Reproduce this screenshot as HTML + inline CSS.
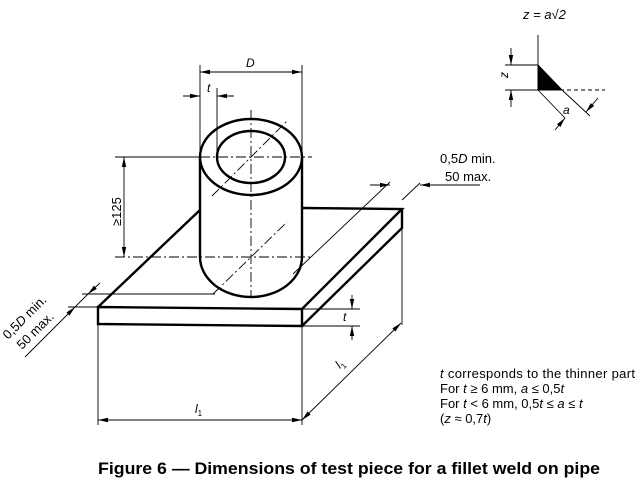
<!DOCTYPE html>
<html><head><style>
body{margin:0;background:#fff;width:640px;height:494px;overflow:hidden;font-family:"Liberation Sans",sans-serif}
svg{position:absolute;left:0;top:0}
text{font-family:"Liberation Sans",sans-serif;fill:#000}
</style></head><body>
<svg width="640" height="494" viewBox="0 0 640 494">
<defs><marker id="a" markerWidth="10" markerHeight="6" refX="10" refY="3" orient="auto-start-reverse" markerUnits="userSpaceOnUse"><path d="M0,0.8 L10,3 L0,5.2z" fill="#000"/></marker></defs>
<g stroke="#000" fill="none">
<g stroke-width="2.4">
<path d="M98,307 L302,309 L302,326 L98,324 Z"/>
<path d="M98,307 L200,210"/>
<path d="M302,208 L402,209 L302,309"/>
<path d="M402,209 L402,228 L302,326"/>
</g>
<g stroke-width="2.4">
<path d="M200,157 L200,257 A51,40 0 0 0 302,257 L302,157" fill="#fff"/>
<ellipse cx="251" cy="157" rx="51" ry="38" fill="#fff"/>
<ellipse cx="251" cy="157" rx="34" ry="26"/>
</g>
<g stroke-width="0.9" stroke-dasharray="10,3,2,3">
<path d="M251,110 V298"/>
<path d="M212,196 L288,120"/>
<path d="M213,294 L287,222"/>
<path d="M200,157 H312"/>
<path d="M115,257 H312"/>
</g>
<g stroke-width="0.9">
<path d="M115,157 H200"/>
<path d="M200,65 V157 M302,65 V157"/>
<path d="M200,72 H302" marker-start="url(#a)" marker-end="url(#a)"/>
<path d="M217,88 V157"/>
<path d="M183,96 H200" marker-end="url(#a)"/><path d="M234,96 H217" marker-end="url(#a)"/>
<path d="M124,157 V257" marker-start="url(#a)" marker-end="url(#a)"/>
<path d="M390,182 L293,274"/>
<path d="M420,183 L402,200"/>
<path d="M370,185 H390" marker-end="url(#a)"/>
<path d="M480,185 H420" marker-end="url(#a)"/>
<path d="M82,294 H215 M68,307 H98"/>
<path d="M100,283 L88,294" marker-end="url(#a)"/>
<path d="M25,357 L75,307" marker-end="url(#a)"/>
<path d="M88,294 L75,307"/>
<path d="M302,309 H360 M302,326 H360"/>
<path d="M352,295 V309" marker-end="url(#a)"/>
<path d="M352,340 V326" marker-end="url(#a)"/>
<path d="M98,325 V425 M302,326 V425 M402,228 V325"/>
<path d="M98,420 H302" marker-start="url(#a)" marker-end="url(#a)"/>
<path d="M302,420 L401,323" marker-start="url(#a)" marker-end="url(#a)"/>
<path d="M538,35 V90 M505,90 H560 M505,65 H538"/>
<path d="M560,90 H605" stroke-dasharray="4,3"/>
<path d="M511,48 V65" marker-end="url(#a)"/><path d="M511,107 V90" marker-end="url(#a)"/>
<path d="M538,90 L565,118 M562,90 L590,116"/>
<path d="M555,130 L565,118" marker-end="url(#a)"/>
<path d="M598,98 L586,112" marker-end="url(#a)"/>
</g>
<path d="M538,65 L538,90 L562,90 Z" fill="#000" stroke="#000"/>
</g>
<g font-size="12" font-style="italic">
<text x="246" y="67">D</text>
<text x="207" y="92">t</text>
<text transform="translate(121,226) rotate(-90)" font-style="normal" font-size="13">≥125</text>
<text x="440" y="163" font-style="normal" font-size="13">0,5<tspan font-style="italic">D</tspan> min.</text>
<text x="445" y="181" font-style="normal" font-size="13">50 max.</text>
<text transform="translate(8,340) rotate(-45)" font-style="normal" font-size="13">0,5<tspan font-style="italic">D</tspan> min.</text>
<text transform="translate(22,350) rotate(-45)" font-style="normal" font-size="13">50 max.</text>
<text x="343" y="321">t</text>
<text x="195" y="413">l<tspan font-size="8" dy="3" font-style="normal">1</tspan></text>
<text transform="translate(340,369) rotate(-45)">l<tspan font-size="8" dy="3" font-style="normal">1</tspan></text>
<text x="523" y="19" font-size="13">z = a√2</text>
<text transform="translate(508,78) rotate(-90)">z</text>
<text x="563" y="114">a</text>
</g>
<g font-size="13">
<text x="440" y="378" textLength="195"><tspan font-style="italic">t</tspan> corresponds to the thinner part</text>
<text x="440" y="393">For <tspan font-style="italic">t</tspan> ≥ 6 mm, <tspan font-style="italic">a</tspan> ≤ 0,5<tspan font-style="italic">t</tspan></text>
<text x="440" y="408">For <tspan font-style="italic">t</tspan> &lt; 6 mm, 0,5<tspan font-style="italic">t</tspan> ≤ <tspan font-style="italic">a</tspan> ≤ <tspan font-style="italic">t</tspan></text>
<text x="440" y="423">(<tspan font-style="italic">z</tspan> ≈ 0,7<tspan font-style="italic">t</tspan>)</text>
</g>
<text x="98" y="474" font-size="17" font-weight="bold" textLength="502" lengthAdjust="spacingAndGlyphs">Figure 6 — Dimensions of test piece for a fillet weld on pipe</text>
</svg>
</body></html>
